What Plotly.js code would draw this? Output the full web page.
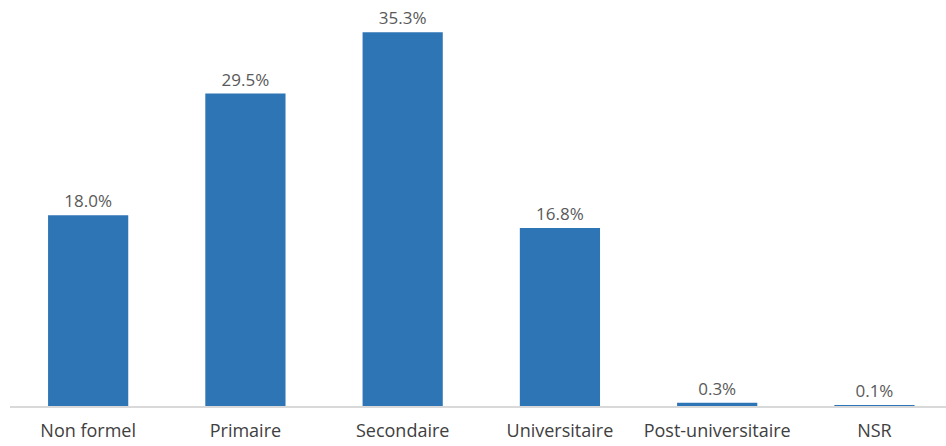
<!DOCTYPE html>
<html><head><meta charset="utf-8">
<script src="https://cdn.plot.ly/plotly-3.0.1.min.js"></script>
<style>html,body{margin:0;padding:0;background:#fff}#chart{width:946px;height:446px}</style>
</head><body><div id="chart"></div>
<script>
const categories = ["Non formel", "Primaire", "Secondaire", "Universitaire", "Post-universitaire", "NSR"];
const values = [18.0, 29.5, 35.3, 16.8, 0.3, 0.1];
const valueLabels = values.map(v => v.toFixed(1) + "%");

const trace = {
  type: "bar",
  x: categories.map((c, i) => i),
  y: values,
  width: 0.51,
  marker: {color: "#2E75B6"},
  text: valueLabels,
  textposition: "outside",
  cliponaxis: false,
  textfont: {family: "'Open Sans', sans-serif", size: 17, color: "#595959"},
  hoverinfo: "none"
};

const layout = {
  width: 946, height: 446,
  margin: {l: 10, r: 0, t: 3, b: 40, pad: 0},
  paper_bgcolor: "#fff", plot_bgcolor: "#fff",
  showlegend: false,
  bargap: 0.49,
  xaxis: {
    range: [-0.497, 5.455],
    tickmode: "array",
    tickvals: categories.map((c, i) => i),
    ticktext: categories,
    showgrid: false, zeroline: false,
    showline: true, linecolor: "#D9D9D9", linewidth: 1.5,
    ticks: "", ticklen: 0,
    ticklabelstandoff: 8,
    tickfont: {family: "'Open Sans', sans-serif", size: 18, color: "#404040"}
  },
  yaxis: {
    range: [0, 38.05],
    visible: false, showgrid: false, zeroline: false, fixedrange: true
  }
};

Plotly.newPlot("chart", [trace], layout, {staticPlot: true, displayModeBar: false});
</script></body></html>
